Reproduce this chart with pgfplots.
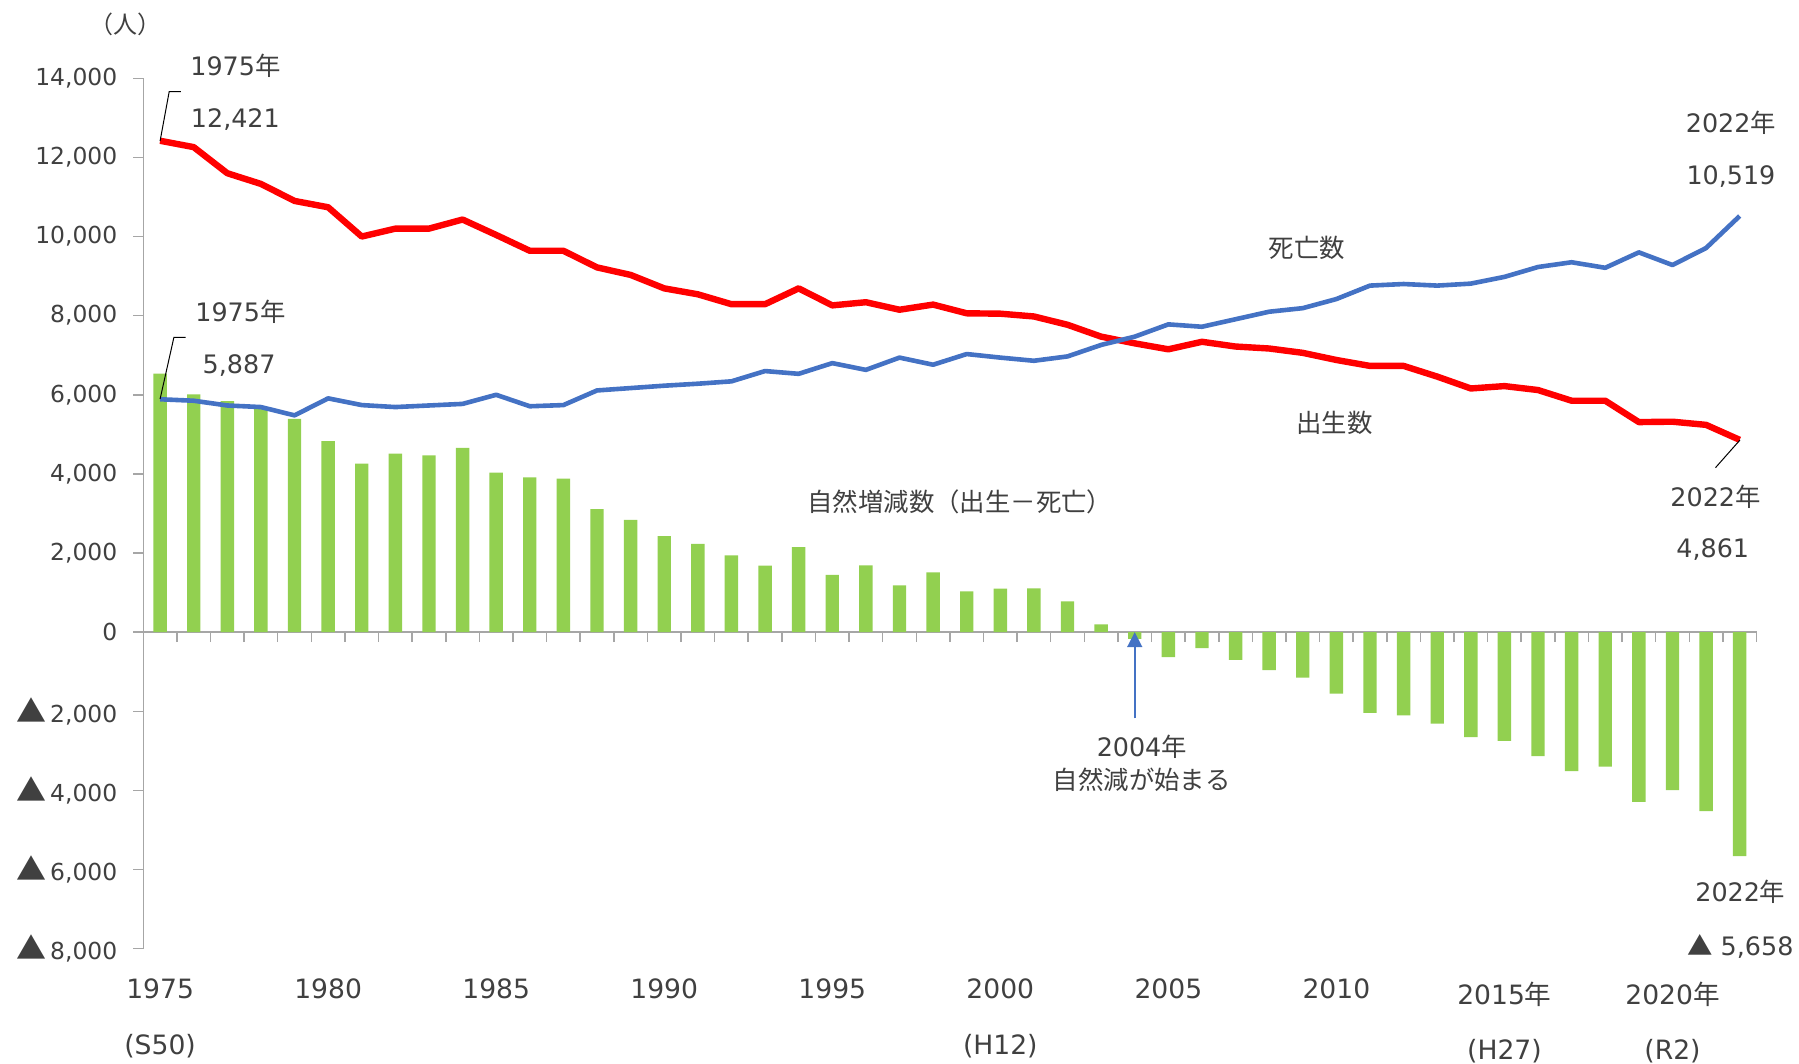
\documentclass[border=0pt]{standalone}
\usepackage{fontspec}
\setmainfont{DejaVu Sans}
\newfontfamily\jp{Noto Sans CJK JP}
\usepackage{pgfplots}
\pgfplotsset{compat=1.18}
\usepackage{pgfplotstable}
\usetikzlibrary{arrows.meta}
\definecolor{cred}{HTML}{FF0000}
\definecolor{cblue}{HTML}{4472C4}
\definecolor{cgreen}{HTML}{92D050}
\definecolor{ctext}{HTML}{404040}
\definecolor{caxis}{HTML}{A6A6A6}
\newcommand{\nen}{{\jp 年}}
\newcommand{\tri}{{\fontsize{15}{15}\selectfont\jp ▲}}
\newcommand{\trs}{{\fontsize{12.7}{15}\selectfont\jp ▲}}
\newcommand{\af}{\fontsize{12.7}{15}\selectfont}
\newcommand{\xf}{\fontsize{13.3}{16}\selectfont}
\newcommand{\yf}{\fontsize{11.7}{14}\selectfont}

\pgfplotstableread{
year birth death diff
1975 12421 5887 6534
1976 12260 5850 6010
1977 11600 5730 5840
1978 11330 5690 5680
1979 10900 5480 5390
1980 10740 5910 4830
1981 10000 5740 4260
1982 10200 5690 4510
1983 10200 5730 4470
1984 10430 5770 4660
1985 10040 6000 4030
1986 9640 5710 3910
1987 9640 5740 3880
1988 9220 6110 3110
1989 9030 6170 2840
1990 8690 6230 2430
1991 8540 6280 2230
1992 8290 6340 1940
1993 8290 6600 1680
1994 8690 6530 2150
1995 8260 6800 1450
1996 8340 6630 1690
1997 8150 6940 1180
1998 8280 6760 1510
1999 8060 7030 1030
2000 8050 6940 1100
2001 7980 6860 1110
2002 7770 6970 780
2003 7470 7260 200
2004 7300 7470 -170
2005 7150 7780 -630
2006 7340 7720 -400
2007 7220 7910 -700
2008 7170 8100 -960
2009 7060 8190 -1150
2010 6880 8420 -1550
2011 6730 8760 -2040
2012 6730 8800 -2100
2013 6460 8760 -2310
2014 6160 8810 -2650
2015 6220 8980 -2750
2016 6120 9230 -3130
2017 5850 9350 -3510
2018 5850 9210 -3400
2019 5310 9600 -4290
2020 5320 9280 -3990
2021 5240 9710 -4520
2022 4861 10519 -5658
}\data

\begin{document}
\begin{tikzpicture}
\useasboundingbox (0,0) rectangle (899.5pt,532pt);
\begin{axis}[
  at={(71.65pt,57.65pt)}, anchor=south west,
  width=806.6pt, height=435.2pt, scale only axis,
  xmin=1974.5, xmax=2022.5, ymin=-8000, ymax=14000,
  axis x line*=middle, axis y line*=left,
  hide obscured x ticks=false, hide obscured y ticks=false,
  axis line style={caxis, line width=0.75pt},
  xtick={1974.5,1975.5,...,2022.5}, xticklabel=\mbox{}, scaled x ticks=false,
  scaled y ticks=false,
  ytick={-8000,-6000,...,14000},
  yticklabels={{\tri\,8,000},{\tri\,6,000},{\tri\,4,000},{\tri\,2,000},0,{2,000},{4,000},{6,000},{8,000},{10,000},{12,000},{14,000}},
  tick align=outside, major tick length=5pt,
  tick style={caxis, line width=0.75pt},
  yticklabel style={font=\yf, text=ctext, xshift=-4.5pt},
  clip=false,
]
\addplot[ybar, bar width=6.7pt, fill=cgreen, draw=none] table[x=year,y=diff]{\data};
\addplot[cred, line width=3.2pt, line join=round, mark=none] table[x=year,y=birth]{\data};
\addplot[cblue, line width=2.3pt, line join=round, mark=none] table[x=year,y=death]{\data};

% leader lines
\draw[black, line width=0.5pt] (axis cs:1975,12416) -- (axis cs:1975.27,13660) -- (axis cs:1975.62,13660);
\draw[black, line width=0.5pt] (axis cs:1975,5895) -- (axis cs:1975.41,7449) -- (axis cs:1975.76,7449);
\draw[black, line width=0.5pt] (axis cs:2022.01,4859) -- (axis cs:2021.28,4158);
% arrow
\draw[cblue, line width=0.9pt, -{Triangle[width=7.5pt,length=7.5pt]}] (axis cs:2004,-2177) -- (axis cs:2004,0);

% annotations
\begin{scope}[every node/.style={text=ctext, font=\af, inner sep=0pt}]
\node[anchor=base] at (axis cs:1977.24,14070) {1975\nen};
\node[anchor=base] at (axis cs:1977.24,12763) {12,421};
\node[anchor=base] at (axis cs:1977.39,7846) {1975\nen};
\node[anchor=base] at (axis cs:1977.35,6537) {5,887};
\node[anchor=base] at (axis cs:2021.74,12639) {2022\nen};
\node[anchor=base] at (axis cs:2021.74,11317) {10,519};
\node[anchor=base] at (axis cs:2021.28,3185) {2022\nen};
\node[anchor=base] at (axis cs:2021.2,1881) {4,861};
\node[anchor=base] at (axis cs:2022.02,-6812) {2022\nen};
\node[anchor=base] at (axis cs:2022.02,-8160) {\trs\ 5,658};
\node[anchor=base] at (axis cs:2004.21,-3147) {2004\nen};
\node[font=\af\jp] at (axis cs:2004.21,-3736) {自然減が始まる};
\node[font=\af\jp] at (axis cs:2009.12,9704) {死亡数};
\node[font=\af\jp] at (axis cs:2009.94,5280) {出生数};
\node[font=\af\jp] at (axis cs:1998.80,3299) {自然増減数（出生－死亡）};
\node[font=\fontsize{12}{13}\selectfont\jp] at (axis cs:1973.98,15364) {（人）};
\end{scope}
% x labels
\begin{scope}[every node/.style={text=ctext, font=\xf, inner sep=0pt, anchor=base}]
\node at (axis cs:1975,-9270) {1975};
\node at (axis cs:1980,-9270) {1980};
\node at (axis cs:1985,-9270) {1985};
\node at (axis cs:1990,-9270) {1990};
\node at (axis cs:1995,-9270) {1995};
\node at (axis cs:2000,-9270) {2000};
\node at (axis cs:2005,-9270) {2005};
\node at (axis cs:2010,-9270) {2010};
\node at (axis cs:2015,-9411) {2015\nen};
\node at (axis cs:2020,-9411) {2020\nen};
\node at (axis cs:1975,-10673) {(S50)};
\node at (axis cs:2000,-10673) {(H12)};
\node at (axis cs:2015,-10799) {(H27)};
\node at (axis cs:2020,-10799) {(R2)};
\end{scope}
\end{axis}
\end{tikzpicture}
\end{document}
